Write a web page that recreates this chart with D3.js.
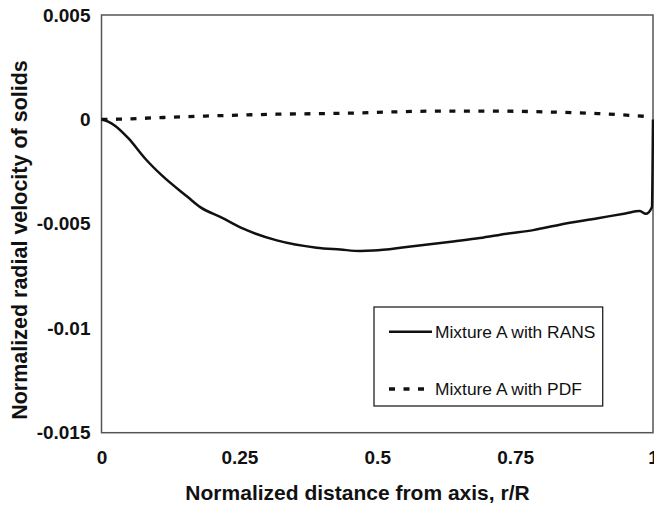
<!DOCTYPE html>
<html>
<head>
<meta charset="utf-8">
<script src="https://cdn.jsdelivr.net/npm/d3@7"></script>
<style>
  body { margin: 0; background: #fff; }
  text { font-family: Arial, "Liberation Sans", sans-serif; }
</style>
</head>
<body>
<div id="chart"></div>
<script>
// values
const ransX = [0, 0.012, 0.025, 0.049, 0.079, 0.109, 0.157, 0.179, 0.218, 0.257, 0.318, 0.39, 0.433, 0.469, 0.493, 0.553, 0.638, 0.686, 0.735, 0.783, 0.831, 0.9, 0.95, 0.976, 0.987, 0.998, 1.0]
const ransY = [0, -0.0001, -0.00031, -0.00091, -0.00187, -0.00267, -0.00373, -0.0042, -0.0047, -0.00523, -0.00579, -0.00614, -0.00623, -0.0063, -0.00628, -0.00611, -0.00584, -0.00568, -0.00547, -0.0053, -0.00504, -0.00473, -0.0045, -0.00439, -0.00452, -0.0042, 0]
const pdfX = [0, 0.03, 0.1, 0.188, 0.318, 0.451, 0.529, 0.614, 0.7, 0.819, 0.9, 0.984]
const pdfY = [0, 0.00001, 0.00008, 0.00016, 0.00025, 0.0003, 0.00036, 0.0004, 0.0004, 0.00035, 0.00028, 0.00015]

const seriesNames = ['Mixture A with RANS', 'Mixture A with PDF']
const xTicks = [0, 0.25, 0.5, 0.75, 1]
const xTickLabels = ['0', '0.25', '0.5', '0.75', '1']
const yTicks = [0.005, 0, -0.005, -0.01, -0.015]
const yTickLabels = ['0.005', '0', '-0.005', '-0.01', '-0.015']

const W = 654, H = 505
const margin = { top: 15, left: 101.5, right: 1, bottom: 72.3 }
const width = W - margin.left - margin.right
const height = H - margin.top - margin.bottom

const svg = d3.select('#chart')
  .append('svg')
  .attr('width', W)
  .attr('height', H)

const g = svg.append('g')
  .attr('transform', `translate(${margin.left},${margin.top})`)

const x = d3.scaleLinear().domain([0, 1]).range([0, width])
const y = d3.scaleLinear().domain([-0.015, 0.005]).range([height, 0])

// axes, no tick marks
g.append('g')
  .attr('transform', `translate(0,${height})`)
  .call(d3.axisBottom(x).tickValues(xTicks).tickSize(0).tickPadding(18)
    .tickFormat((d, i) => xTickLabels[i]))
g.append('g')
  .call(d3.axisLeft(y).tickValues(yTicks).tickSize(0).tickPadding(11)
    .tickFormat((d, i) => yTickLabels[i]))

svg.selectAll('.domain').remove()
svg.selectAll('.tick text')
  .attr('font-size', 19)
  .attr('font-weight', 'bold')
  .attr('fill', '#111')
  .style('font-family', 'Arial, "Liberation Sans", sans-serif')

// plot frame
g.append('rect')
  .attr('x', 0).attr('y', 0)
  .attr('width', width).attr('height', height)
  .attr('fill', 'none')
  .attr('stroke', '#555')
  .attr('stroke-width', 1.5)

const line = d3.line()
  .x(d => x(d[0]))
  .y(d => y(d[1]))
  .curve(d3.curveMonotoneX)

const rans = ransX.map((v, i) => [v, ransY[i]])
const pdf = pdfX.map((v, i) => [v, pdfY[i]])

g.append('path')
  .attr('d', line(pdf))
  .attr('fill', 'none')
  .attr('stroke', '#111')
  .attr('stroke-width', 3.3)
  .attr('stroke-dasharray', '6,8.5')

g.append('path')
  .attr('d', line(rans))
  .attr('fill', 'none')
  .attr('stroke', '#111')
  .attr('stroke-width', 2.5)
  .attr('stroke-linejoin', 'round')

// axis titles
svg.append('text')
  .attr('x', 357.5)
  .attr('y', 500)
  .attr('text-anchor', 'middle')
  .attr('font-size', 21)
  .attr('font-weight', 'bold')
  .attr('fill', '#111')
  .text('Normalized distance from axis, r/R')

svg.append('text')
  .attr('transform', 'translate(27,240) rotate(-90)')
  .attr('text-anchor', 'middle')
  .attr('font-size', 21.5)
  .attr('font-weight', 'bold')
  .attr('fill', '#111')
  .text('Normalized radial velocity of solids')

// legend
const legend = svg.append('g').attr('transform', 'translate(374,307)')
legend.append('rect')
  .attr('width', 228.7).attr('height', 99)
  .attr('fill', '#fff')
  .attr('stroke', '#222')
  .attr('stroke-width', 1.3)

const legendRows = legend.selectAll('g.row')
  .data(seriesNames)
  .enter()
  .append('g')
  .attr('class', 'row')
  .attr('transform', (d, i) => `translate(0,${i === 0 ? 24.7 : 82})`)

legendRows.append('line')
  .attr('x1', 15).attr('x2', 58)
  .attr('stroke', '#111')
  .attr('stroke-width', (d, i) => i === 0 ? 2.5 : 3.3)
  .attr('stroke-dasharray', (d, i) => i === 0 ? null : '6,8.5')

legendRows.append('text')
  .attr('x', 61)
  .attr('dy', '0.35em')
  .attr('font-size', 17.4)
  .attr('fill', '#111')
  .text(d => d)
</script>
</body>
</html>
